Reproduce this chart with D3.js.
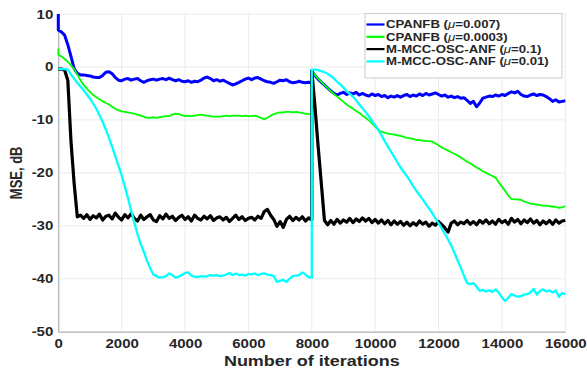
<!DOCTYPE html>
<html>
<head>
<meta charset="utf-8">
<script src="https://cdn.jsdelivr.net/npm/d3@7"></script>
<style>
    body { margin: 0; background: #fff; }
    text { font-family: "Liberation Sans", Arial, sans-serif; font-weight: bold; fill: #262626; }
</style>
</head>
<body>
<svg id="chart" width="587" height="369"></svg>
<script>
// Iteration grid (0 and 8000 appear twice: value before / after the jump)
var iterations = [0, 0].concat(d3.range(100, 8001, 100), [8000], d3.range(8100, 16001, 100));

var xTicks = [0, 2000, 4000, 6000, 8000, 10000, 12000, 14000, 16000];
var yTicks = [10, 0, -10, -20, -30, -40, -50];

// CPANFB (mu=0.007)
var cpanfbFast = [
    10, 7.0,
    6.6, 6.0, 4.2, 2.0, -0.3, -1.2, -1.5, -1.5, -1.6, -1.7,
    -1.9, -2.0, -2.0, -1.6, -1.0, -0.9, -1.3, -2.0, -2.5, -2.6,
    -2.3, -2.2, -2.5, -2.3, -2.2, -2.6, -2.9, -2.6, -2.4, -2.3,
    -2.5, -2.3, -2.2, -2.4, -2.1, -2.4, -2.6, -2.4, -2.7, -2.8,
    -2.6, -2.9, -2.7, -2.8, -2.5, -2.1, -1.9, -2.2, -2.6, -2.4,
    -2.7, -2.5, -2.8, -3.1, -3.4, -3.2, -2.9, -2.6, -2.3, -2.1,
    -2.4, -2.1, -2.0, -2.3, -2.6, -2.8, -2.9, -3.1, -2.8, -2.5,
    -2.6, -2.4, -2.8, -3.0, -2.9, -2.7, -2.9, -3.0, -2.9, -3.0,
    -0.8,
    -1.6, -2.3, -2.9, -3.4, -4.0, -4.5, -5.0, -5.3, -5.0, -4.8,
    -5.2, -4.9, -5.1, -4.8, -5.3, -5.0, -5.3, -5.5, -5.1, -5.4,
    -5.2, -5.6, -5.4, -5.8, -5.5, -5.7, -5.4, -5.7, -5.4, -5.2,
    -5.6, -5.3, -5.5, -5.1, -5.4, -5.0, -5.3, -5.1, -4.9, -5.2,
    -5.5, -5.3, -5.7, -5.5, -5.8, -5.6, -5.9, -5.8, -6.3, -6.9,
    -6.5, -7.5, -6.8, -5.9, -5.7, -5.5, -5.6, -5.3, -5.5, -5.2,
    -5.4, -5.0, -4.7, -4.9, -4.6, -5.2, -5.5, -5.6, -5.3, -5.1,
    -5.4, -5.2, -5.3, -5.6, -6.0, -6.5, -6.2, -6.6, -6.5, -6.4
];

// CPANFB (mu=0.0003)
var cpanfbSlow = [
    3.5, 2.3,
    2.0, 1.5, 1.0, 0.3, -0.4, -1.4, -2.5, -3.4, -4.1, -4.7,
    -5.3, -5.7, -6.1, -6.5, -6.8, -7.1, -7.5, -7.9, -8.2, -8.4,
    -8.5, -8.6, -8.7, -8.8, -9.0, -9.2, -9.4, -9.6, -9.6, -9.5,
    -9.6, -9.5, -9.4, -9.3, -9.3, -9.0, -8.8, -8.9, -9.1, -9.3,
    -9.2, -9.3, -9.2, -9.1, -9.0, -9.1, -9.2, -9.3, -9.4, -9.4,
    -9.4, -9.3, -9.2, -9.3, -9.2, -9.2, -9.2, -9.3, -9.2, -9.3,
    -9.3, -9.2, -9.4, -9.6, -9.9, -9.6, -9.2, -8.9, -8.7, -8.6,
    -8.6, -8.5, -8.5, -8.6, -8.5, -8.6, -8.7, -8.8, -8.9, -8.9,
    -0.8,
    -1.5, -2.2, -2.8, -3.4, -4.0, -4.6, -5.1, -5.6, -6.1, -6.6,
    -7.1, -7.5, -7.9, -8.3, -8.7, -9.2, -9.6, -10.1, -10.6, -11.3,
    -11.9, -12.2, -12.4, -12.6, -12.7, -12.8, -12.9, -13.0, -13.2, -13.4,
    -13.5, -13.6, -13.8, -13.8, -13.9, -14.0, -14.0, -14.1, -14.4, -14.8,
    -15.2, -15.5, -15.8, -16.1, -16.4, -16.7, -17.1, -17.5, -17.9, -18.2,
    -18.6, -19.0, -19.3, -19.7, -20.0, -20.3, -20.6, -20.9, -21.8, -22.6,
    -23.4, -24.3, -24.9, -25.0, -25.0, -25.1, -25.4, -25.6, -25.8, -25.9,
    -26.0, -26.1, -26.2, -26.2, -26.3, -26.4, -26.4, -26.6, -26.5, -26.3
];

// M-MCC-OSC-ANF (mu=0.1)
var mccFast = [
    -0.4, -0.4,
    -0.4, -0.6, -2.5, -14.0, -22.0, -28.3, -28.0, -28.6, -27.9, -28.8,
    -28.1, -28.5, -27.8, -28.9, -28.2, -28.0, -28.7, -27.6, -28.4, -28.9,
    -27.9, -28.5, -27.7, -28.6, -29.1, -28.0, -28.8, -28.3, -27.9, -28.9,
    -29.2, -28.1, -28.7, -27.8, -28.6, -28.2, -29.0, -28.4, -28.0, -28.8,
    -28.3, -29.1, -28.0, -28.6, -28.9, -28.2, -28.7, -28.1, -29.0, -28.5,
    -28.3, -28.9, -28.4, -29.2, -28.6, -28.0, -28.8, -28.3, -29.0, -28.6,
    -28.4, -28.9, -28.2, -28.6, -27.3, -26.9, -28.0, -28.8, -30.1, -29.2,
    -30.3, -28.8, -28.2, -29.0, -28.4, -28.9, -28.3, -29.1, -28.5, -28.9,
    -0.7,
    -7.5, -15.0, -22.0, -29.0, -29.8, -29.0, -29.7, -28.8, -29.5, -28.9,
    -29.3, -28.6, -29.4, -28.7, -29.2, -28.5, -29.1, -28.6, -29.4, -28.8,
    -29.5, -28.9, -29.6, -29.0, -29.8, -29.1, -29.7, -29.2, -29.9, -29.3,
    -30.0, -29.4, -29.9, -29.1, -29.7, -29.3, -30.1, -29.5, -29.9, -29.2,
    -29.8, -30.4, -31.2, -29.5, -29.1, -29.8, -29.3, -29.6, -29.0, -29.7,
    -29.2, -29.8, -29.0, -29.5, -28.9, -29.6, -29.1, -29.7, -28.8, -29.4,
    -29.0, -29.7, -28.6, -29.3, -28.8, -29.6, -28.9, -29.4, -28.7, -29.5,
    -29.0, -29.8, -29.1, -29.6, -29.0, -29.7, -28.9, -29.5, -29.1, -29.0
];

// M-MCC-OSC-ANF (mu=0.01)
var mccSlow = [
    -0.4, -0.4,
    -0.4, -0.4, -0.5, -1.4, -2.2, -3.0, -3.7, -4.4, -5.2, -6.0,
    -6.9, -7.9, -9.1, -10.4, -11.8, -13.4, -15.1, -16.9, -18.7, -20.5,
    -22.6, -24.8, -27.1, -29.4, -31.6, -33.4, -34.9, -36.6, -38.0, -39.2,
    -39.5, -39.8, -39.7, -39.5, -39.0, -39.3, -39.8, -39.6, -39.3, -38.9,
    -38.8, -39.4, -39.6, -39.7, -39.5, -39.6, -39.5, -39.3, -39.4, -39.3,
    -39.5, -39.4, -39.2, -38.9, -39.3, -39.0, -39.3, -39.2, -39.4, -39.1,
    -39.2, -39.0, -39.3, -39.1, -39.0, -39.2, -39.3, -39.5, -40.6, -40.4,
    -40.2, -40.6, -40.0, -39.5, -39.4, -39.3, -38.8, -39.2, -39.7, -39.8,
    -0.5,
    -0.5, -0.6, -0.8, -1.0, -1.3, -1.7, -2.2, -2.8, -3.3, -3.9,
    -4.6, -5.1, -5.6, -6.3, -7.1, -7.8, -8.5, -9.3, -10.2, -11.0,
    -11.9, -12.9, -14.0, -15.0, -16.0, -17.0, -18.0, -19.0, -19.8, -20.6,
    -21.5, -22.5, -23.4, -24.2, -25.0, -25.9, -26.7, -27.6, -28.6, -29.5,
    -30.5, -31.5, -32.6, -33.7, -35.1, -36.5, -37.9, -39.4, -40.8, -41.0,
    -40.8, -41.5, -42.3, -42.1, -42.4, -42.2, -42.5, -42.0, -42.6, -43.5,
    -44.2, -43.6, -42.9, -43.2, -43.4, -43.3, -43.0, -42.9, -42.6, -41.9,
    -43.0, -42.3, -42.0, -42.4, -42.2, -42.6, -42.2, -43.4, -42.7, -42.9
];

var seriesNames = ["CPANFB", "CPANFB", "M-MCC-OSC-ANF", "M-MCC-OSC-ANF"];
var seriesMu = ["0.007", "0.0003", "0.1", "0.01"];
var seriesValues = [cpanfbFast, cpanfbSlow, mccFast, mccSlow];
var seriesColors = ["#0000ff", "#00ff00", "#000000", "#00ffff"];
var seriesWidths = [3.0, 1.8, 3.2, 2.3];

// Plot area (matches the MATLAB figure)
var plot = { left: 58.3, right: 565.3, top: 14, bottom: 331.7 };
var stretch = 1.2; // the original text is drawn wider than it is tall

var svg = d3.select("#chart");

var xScale = d3.scaleLinear().domain([0, 16000]).range([plot.left, plot.right]);
var yScale = d3.scaleLinear().domain([-50, 10]).range([plot.bottom, plot.top]);

// Grid lines
svg.append("g").selectAll("line")
    .data(xTicks)
    .enter().append("line")
    .attr("x1", d => xScale(d)).attr("x2", d => xScale(d))
    .attr("y1", plot.top).attr("y2", plot.bottom)
    .attr("stroke", "#e6e6e6").attr("stroke-width", 0.8);

svg.append("g").selectAll("line")
    .data(yTicks)
    .enter().append("line")
    .attr("x1", plot.left).attr("x2", plot.right)
    .attr("y1", d => yScale(d)).attr("y2", d => yScale(d))
    .attr("stroke", "#e6e6e6").attr("stroke-width", 0.8);

// Axes
var xAxis = d3.axisBottom(xScale).tickValues(xTicks).tickSize(0).tickPadding(7.6).tickFormat(d => String(d));
var yAxis = d3.axisLeft(yScale).tickValues(yTicks).tickSize(0).tickPadding(5).tickFormat(d => String(d));

var gx = svg.append("g")
    .attr("transform", "translate(0," + plot.bottom + ")")
    .call(xAxis);
var gy = svg.append("g")
    .attr("transform", "translate(" + plot.left + ",0)")
    .call(yAxis);

[gx, gy].forEach(function (g) {
    g.select(".domain").attr("stroke", "#a8a8a8").attr("stroke-width", 1);
    g.selectAll("text")
        .attr("font-size", "12.5px")
        .attr("font-family", null)
        .attr("fill", "#262626")
        .each(function () {
            var t = d3.select(this);
            var x = +t.attr("x") || 0;
            t.attr("x", x / stretch).attr("transform", "scale(" + stretch + ",1)");
        });
});

// Series lines
var line = d3.line()
    .x((d, i) => xScale(iterations[i]))
    .y(d => yScale(d));

seriesValues.forEach(function (values, k) {
    svg.append("path")
        .datum(values)
        .attr("fill", "none")
        .attr("stroke", seriesColors[k])
        .attr("stroke-width", seriesWidths[k])
        .attr("stroke-linejoin", "round")
        .attr("d", line);
});

// Axis labels
svg.append("text")
    .attr("transform", "translate(" + (plot.left + plot.right) / 2 + ",365.5) scale(" + stretch + ",1)")
    .attr("text-anchor", "middle")
    .attr("font-size", "15px")
    .text("Number of iterations");

svg.append("text")
    .attr("transform", "translate(22," + (plot.top + plot.bottom) / 2 + ") scale(" + stretch + ",1) rotate(-90)")
    .attr("text-anchor", "middle")
    .attr("font-size", "13px")
    .text("MSE, dB");

// Legend
var legend = svg.append("g");
legend.append("rect")
    .attr("x", 365).attr("y", 13.5)
    .attr("width", 197).attr("height", 64.5)
    .attr("fill", "#fff")
    .attr("stroke", "#cccccc").attr("stroke-width", 1);

var rowY = d3.scalePoint().domain(d3.range(seriesNames.length)).range([24.5, 61.4]);

seriesNames.forEach(function (name, k) {
    var y = rowY(k);
    legend.append("line")
        .attr("x1", 366.5).attr("x2", 384.5)
        .attr("y1", y).attr("y2", y)
        .attr("stroke", seriesColors[k]).attr("stroke-width", 2.2);

    var t = legend.append("text")
        .attr("transform", "translate(386," + (y + 3.9) + ") scale(" + stretch + ",1)")
        .attr("font-size", "11px");
    t.append("tspan").text(name + " (");
    t.append("tspan").attr("font-style", "italic").attr("font-weight", "normal").text("\u03bc");
    t.append("tspan").text("=" + seriesMu[k] + ")");
});
</script>
</body>
</html>
